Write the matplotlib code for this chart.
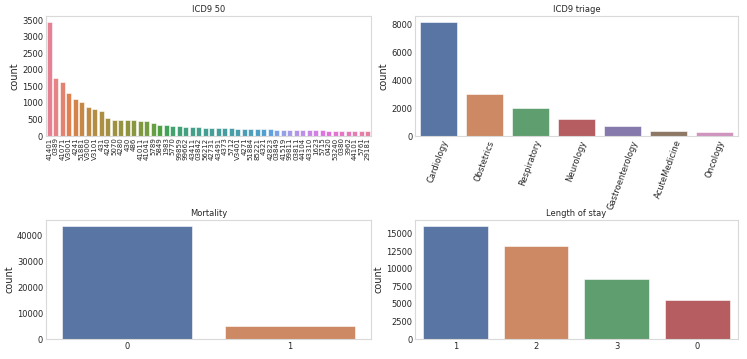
import matplotlib
matplotlib.use('Agg')
import matplotlib.pyplot as plt
from matplotlib.ticker import MultipleLocator
import seaborn as sns

icd9_codes = ['41401', '0389', '41071', 'V3001', '4241', '51881', 'V3000', 'V3101', '431', '4240',
              '5070', '4280', '430', '486', '41011', '41041', '5789', '5849', '1983', '5770',
              '99859', '99662', '43411', '03842', '56212', '42731', '43491', '4373', '5712', 'V3401',
              '4271', '51884', '85221', '4321', '42823', '03849', '41519', '99811', '03811', '44104',
              '43310', '1623', '5715', '0420', '53240', '0380', '3962', '44101', '5761', '29181']
icd9_counts = [3450, 1750, 1640, 1310, 1130, 1030, 890, 820, 760, 560,
               490, 490, 480, 480, 460, 450, 390, 340, 330, 310,
               300, 285, 275, 265, 250, 245, 240, 238, 235, 228,
               222, 215, 210, 205, 200, 198, 195, 192, 190, 185,
               180, 175, 170, 168, 165, 162, 160, 155, 150, 140]

triage_labels = ['Cardiology', 'Obstetrics', 'Respiratory', 'Neurology',
                 'Gastroenterology', 'AcuteMedicine', 'Oncology']
triage_counts = [8200, 3050, 2000, 1250, 700, 330, 310]

mortality_labels = ['0', '1']
mortality_counts = [43800, 5100]

los_labels = ['1', '2', '3', '0']
los_counts = [16100, 13300, 8500, 5600]

sns.set_style('whitegrid')
plt.rcParams['font.family'] = ['DejaVu Sans']
plt.rcParams['axes.edgecolor'] = '0.85'

fig = plt.figure(figsize=(7.47, 3.59), dpi=100)
ax1 = fig.add_axes([0.0616, 0.621, 0.435, 0.334])
ax2 = fig.add_axes([0.5556, 0.621, 0.432, 0.334])
ax3 = fig.add_axes([0.0616, 0.0557, 0.435, 0.331])
ax4 = fig.add_axes([0.5556, 0.0557, 0.432, 0.331])

husl = [sns.desaturate(c, 0.75) for c in sns.color_palette('husl', len(icd9_codes))]
deep = [sns.desaturate(c, 0.75) for c in sns.color_palette('deep', 10)]

fs = 6


def draw(ax, labels, counts, colors, title):
    x = list(range(len(labels)))
    ax.bar(x, counts, width=0.8, color=colors, edgecolor='white', linewidth=0.4)
    ax.set_xticks(x)
    ax.set_xticklabels(labels)
    ax.set_xlim(-0.5, len(labels) - 0.5)
    ax.grid(False)
    ax.set_title(title, fontsize=fs, pad=3)
    ax.set_ylabel('count', fontsize=7, labelpad=2)
    ax.tick_params(axis='both', labelsize=fs, length=0, pad=2)
    for s in ax.spines.values():
        s.set_linewidth(0.8)


draw(ax1, icd9_codes, icd9_counts, husl, 'ICD9 50')
ax1.yaxis.set_major_locator(MultipleLocator(500))
ax1.tick_params(axis='x', labelrotation=90, pad=1, labelsize=5)
draw(ax2, triage_labels, triage_counts, deep[:len(triage_labels)], 'ICD9 triage')
for lbl in ax2.get_xticklabels():
    lbl.set_rotation(70)
    lbl.set_ha('center')
    lbl.set_va('top')
draw(ax3, mortality_labels, mortality_counts, deep[:2], 'Mortality')
draw(ax4, los_labels, los_counts, deep[:4], 'Length of stay')

fig.savefig('out.png', dpi=100)
